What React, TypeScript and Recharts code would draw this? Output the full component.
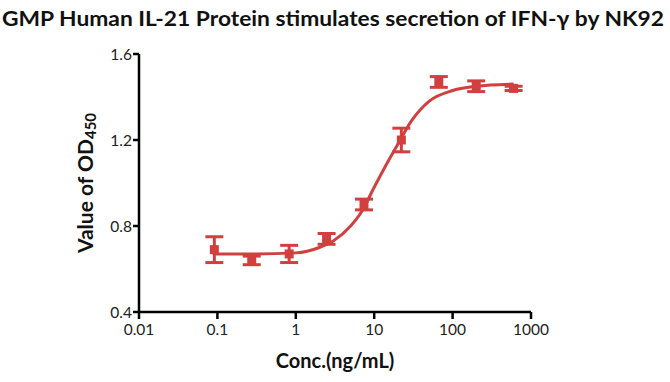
import React from 'react';
import {
  ComposedChart,
  Scatter,
  Line,
  XAxis,
  YAxis,
  ErrorBar,
  Label,
} from 'recharts';

const RED = '#D13F3F';
const FONT = 'Lato, "Open Sans", sans-serif';

// measured points (3-fold dilution)
const concs = [0.0914, 0.274, 0.823, 2.47, 7.41, 22.2, 66.7, 200, 600];
const means = [0.69, 0.64, 0.67, 0.74, 0.9, 1.2, 1.47, 1.45, 1.44];
const sds = [0.06, 0.02, 0.04, 0.025, 0.025, 0.055, 0.025, 0.025, 0.01];

// fitted curve
const curveX = [0.09, 0.3, 1, 2, 3, 5, 7, 10, 15, 20, 30, 50, 100, 200, 600];
const curveY = [0.67, 0.67, 0.675, 0.7, 0.73, 0.8, 0.87, 0.98, 1.1, 1.18, 1.29, 1.38, 1.43, 1.45, 1.46];

const xTicks = [0.01, 0.1, 1, 10, 100, 1000];
const yTicks = [0.4, 0.8, 1.2, 1.6];

const points = concs.map((c, i) => ({ x: c, y: means[i], err: sds[i] }));
const curve = curveX.map((c, i) => ({ x: c, y: curveY[i] }));

const SquareDot = (props: any) => {
  const { cx, cy } = props;
  if (cx == null || cy == null) return null;
  return <rect x={cx - 4.5} y={cy - 4.5} width={9} height={9} fill={RED} />;
};

const YLabel = (props: any) => {
  const { viewBox } = props;
  const cy = viewBox.y + viewBox.height / 2;
  return (
    <text
      x={84}
      y={cy}
      transform={`rotate(-90, 84, ${cy})`}
      textAnchor="middle"
      dominantBaseline="central"
      fontFamily={FONT}
      fontWeight="bold"
      fontSize={21}
      fill="#111"
    >
      Value of OD
      <tspan fontSize={15} dy={6}>450</tspan>
    </text>
  );
};

export default function App() {
  return (
    <div style={{ position: 'absolute', left: 0, top: 0, width: 670, height: 382, background: '#fff' }}>
      <svg width={670} height={40} style={{ position: 'absolute', left: 0, top: 0 }}>
        <text
          x={333}
          y={26}
          textAnchor="middle"
          fontFamily={FONT}
          fontWeight="bold"
          fontSize={21}
          fill="#111"
          textLength={662}
          lengthAdjust="spacingAndGlyphs"
        >
          GMP Human IL-21 Protein stimulates secretion of IFN-γ by NK92
        </text>
      </svg>
      <ComposedChart
        width={670}
        height={382}
        margin={{ top: 54, right: 139, bottom: 10, left: 0 }}
      >
        <XAxis
          dataKey="x"
          type="number"
          scale="log"
          domain={[0.01, 1000]}
          ticks={xTicks}
          allowDataOverflow
          tickFormatter={(v: number) => String(v)}
          height={60}
          axisLine={{ stroke: '#000', strokeWidth: 2.5 }}
          tickLine={{ stroke: '#000', strokeWidth: 2.5 }}
          tickSize={7}
          tickMargin={5}
          tick={{ fontSize: 15.5, fill: '#222', fontFamily: FONT }}
        >
          <Label
            value="Conc.(ng/mL)"
            position="insideBottom"
            offset={4}
            style={{ fontSize: 20, fontWeight: 'bold', fill: '#111', fontFamily: FONT }}
          />
        </XAxis>
        <YAxis
          type="number"
          domain={[0.4, 1.6]}
          ticks={yTicks}
          allowDataOverflow
          tickFormatter={(v: number) => v.toFixed(1)}
          width={139}
          axisLine={{ stroke: '#000', strokeWidth: 2.5 }}
          tickLine={{ stroke: '#000', strokeWidth: 2.5 }}
          tickSize={6}
          tickMargin={1}
          tick={{ fontSize: 15.5, fill: '#222', fontFamily: FONT }}
        >
          <Label content={<YLabel />} />
        </YAxis>
        <Line
          data={curve}
          dataKey="y"
          type="monotone"
          stroke={RED}
          strokeWidth={3}
          dot={false}
          activeDot={false}
          isAnimationActive={false}
        />
        <Scatter data={points} dataKey="y" shape={<SquareDot />} isAnimationActive={false}>
          <ErrorBar dataKey="err" direction="y" width={9} stroke={RED} strokeWidth={3} />
        </Scatter>
      </ComposedChart>
    </div>
  );
}
